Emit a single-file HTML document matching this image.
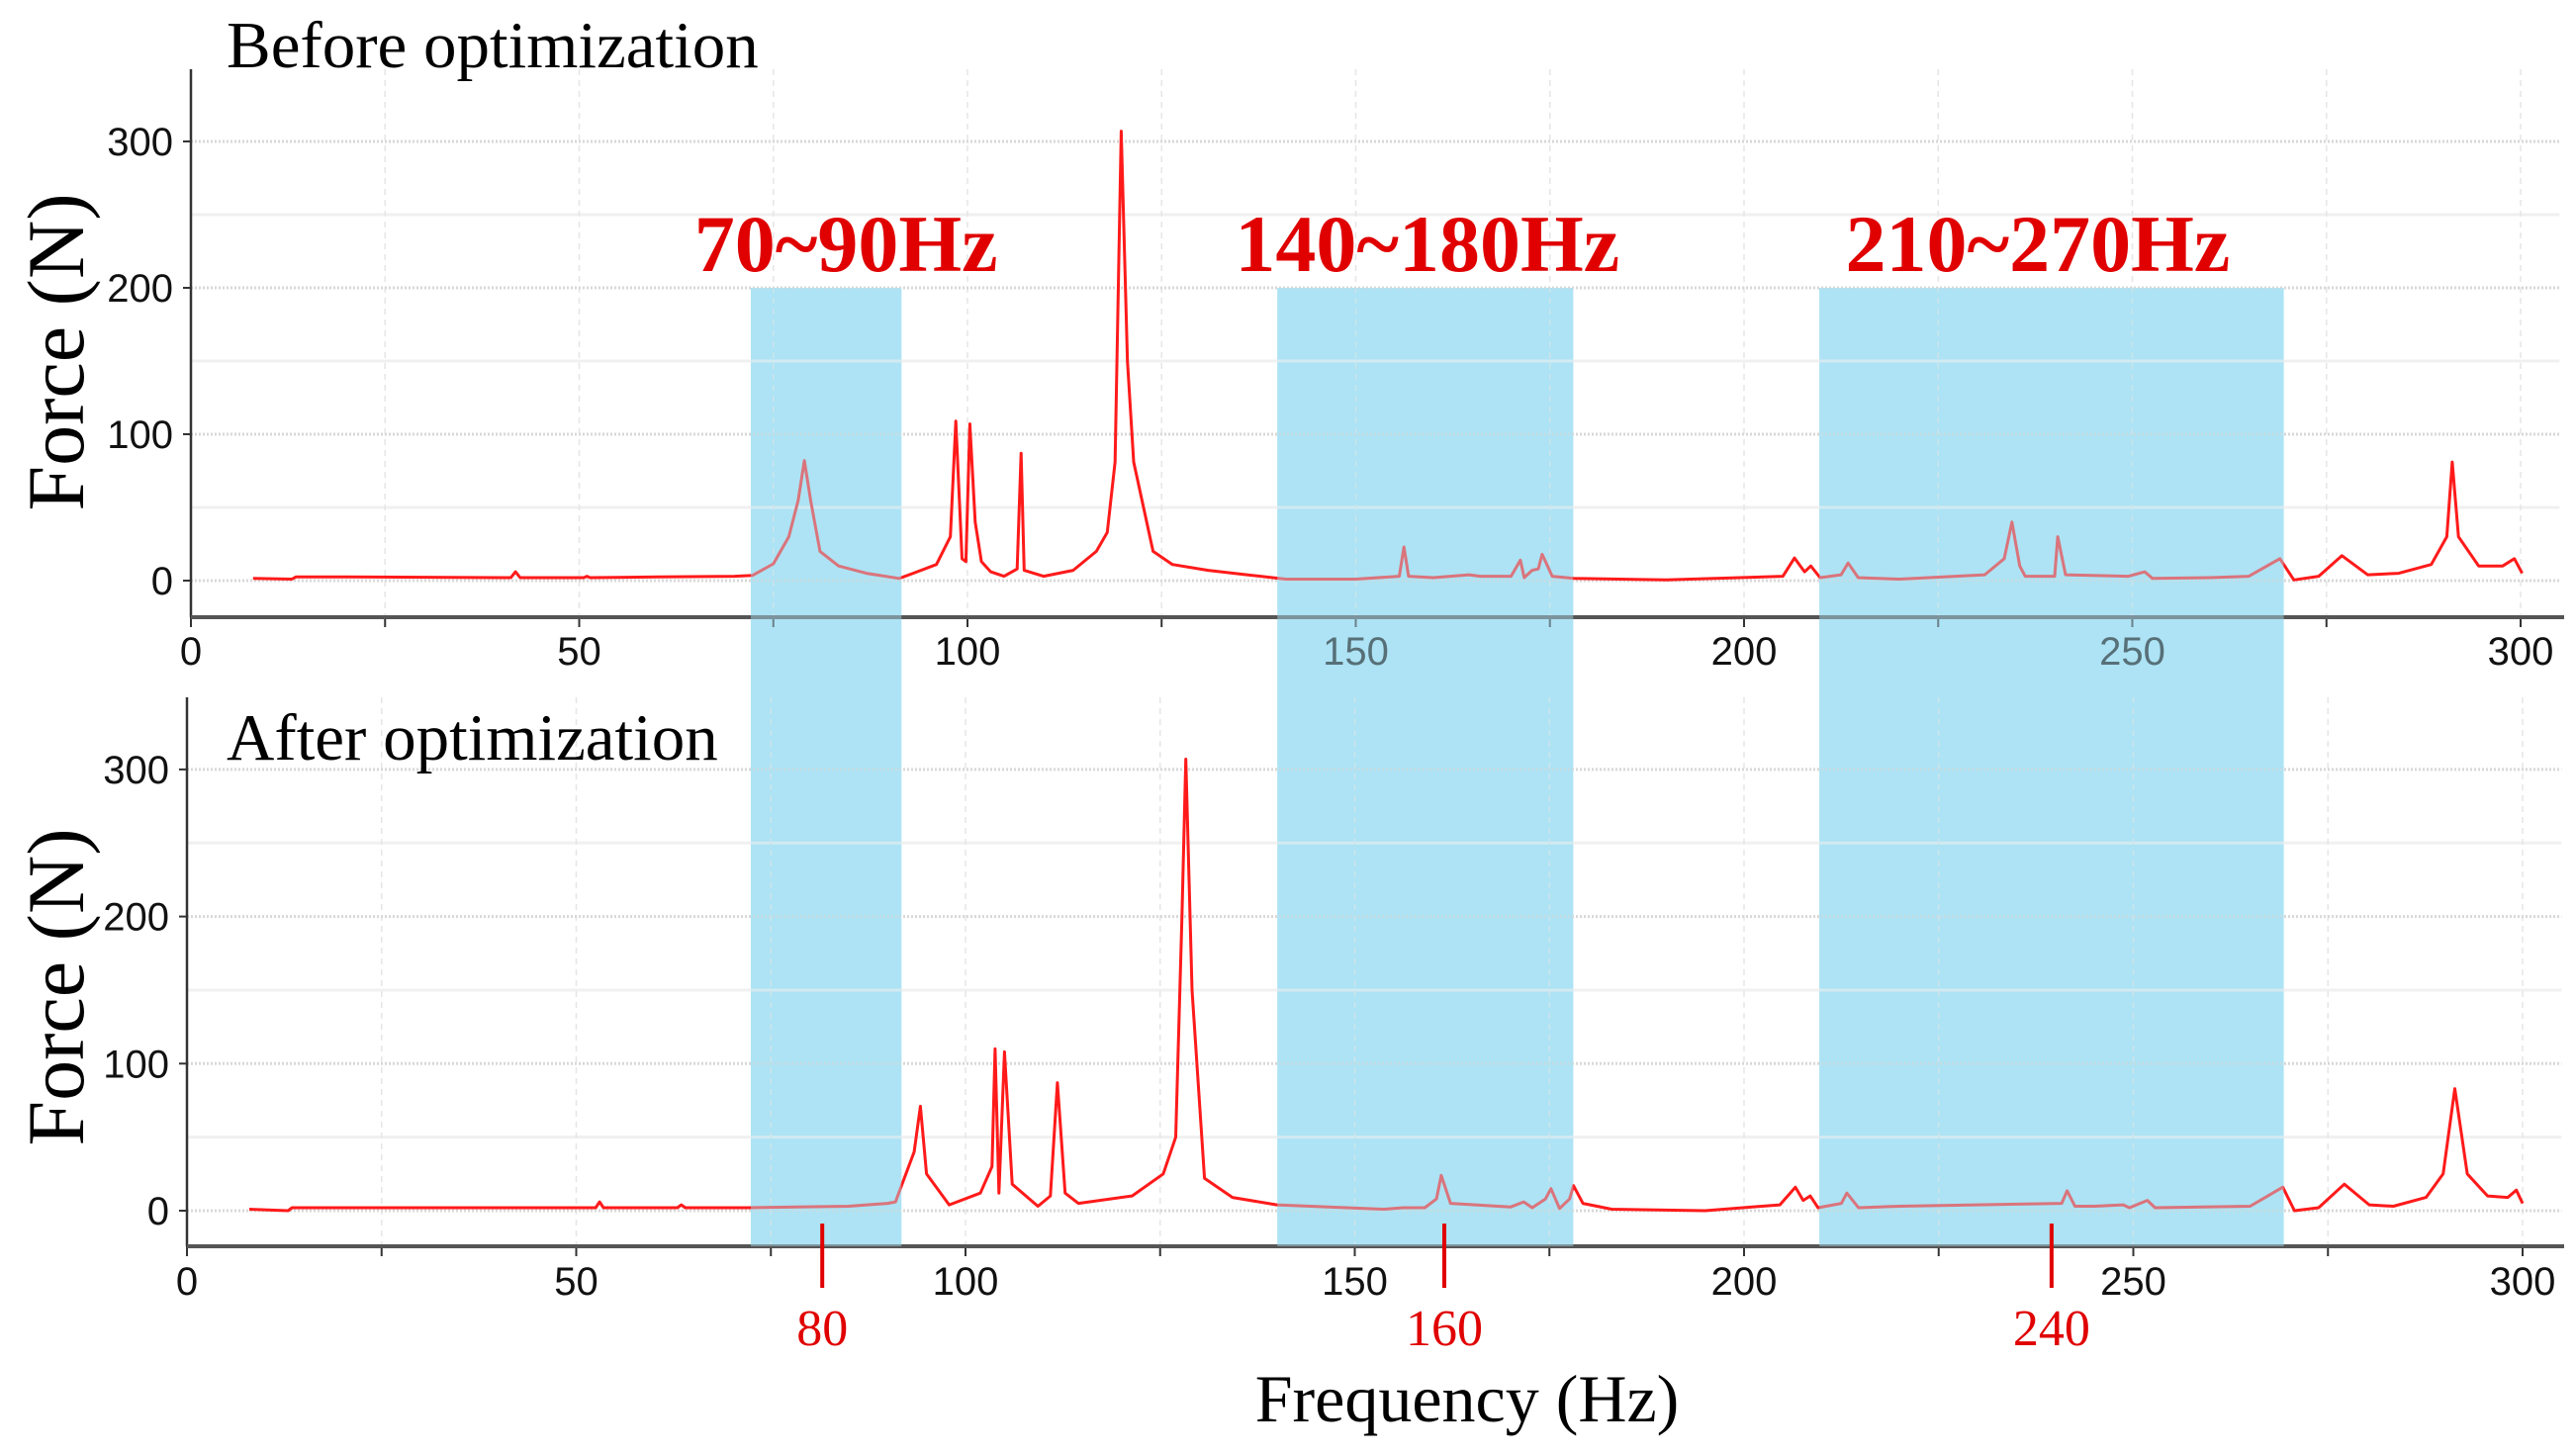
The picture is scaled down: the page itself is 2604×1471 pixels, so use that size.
<!DOCTYPE html>
<html><head><meta charset="utf-8"><style>
html,body{margin:0;padding:0;background:#fff;}
svg{display:block;}
.tick{font-family:"Liberation Sans Narrow","Liberation Sans",sans-serif;font-size:40px;fill:#111;}
.serif{font-family:"Liberation Serif",serif;}
</style></head><body>
<svg id="chart" width="2604" height="1471" viewBox="0 0 2604 1471" xmlns="http://www.w3.org/2000/svg">
<g id="under"></g>
<g id="curves"></g>
<g id="over"></g>
<g id="texts"></g>
</svg>
<script>
const beforeFreq=[8,13,13.5,20,41.2,41.8,42.4,50.6,51,51.4,60,70,72.3,75,77,78.2,79,79.8,81,83.4,87,91.2,93,96,97.8,98.5,99.3,99.8,100.3,101,101.8,103,104.7,106.4,106.9,107.3,109.8,113.6,116.6,118,119,119.8,120.6,121.4,123.9,126.4,131,136,141,150,155.6,156.2,156.8,160,164.6,166,170,171.2,171.7,172.7,173.5,174,175.3,178.1,190,205,206.5,207.8,208.6,209.8,212.5,213.4,214.7,220,231,233.5,234.5,235.5,236.2,240,240.4,241.4,249.5,251.6,252.6,260,265,269,270.8,274,277,280.3,284.3,288.5,290.5,291.2,292,294.6,297.7,299.2,300.2];
const beforeForce=[1.5,1,2.5,2.5,2,6,2,2,3,2,2.5,3,3.5,11.5,30,55,82,55,20,10,5,1.5,5,11,30,109,15,13,107,40,13,6,3,8,87,7,3,7,20,33,81,307,150,81,20,11,7,4,1,1,3,23,3,2,4,3,3,14,2,7,8,18,3,1.5,0.5,3,15.5,6,10,2,4,12,2,1,4,15,40,10,3,3,30,4,3,6,1.5,2,3,15,0.5,3,17,4,5,11,30,81,30,10,10,15,5];
const afterFreq=[8,13,13.5,20,52.5,53,53.5,63,63.5,64,72,85,90,91,93.4,94.2,95,97.9,101.9,103.4,103.8,104.3,105,106,109.3,110.9,111.8,112.8,114.5,121.4,125.4,127,127.8,128.3,129.1,130.7,134.3,140,153.8,156.2,159,160.5,161.1,162.3,170,171.7,172.8,174.5,175.2,176.3,177.6,178.1,179.3,183,195,204.6,206.6,207.6,208.5,209.5,212.5,213.2,214.7,220,240.8,241.5,242.5,245,248.7,249.5,251.8,252.8,265,269.2,270.7,273.8,277.1,280.3,283.4,287.6,289.8,291.3,292.9,295.5,298.1,299.2,300];
const afterForce=[1,0,2,2,2,6,2,2,4,2,2,3,5,6,40,71,25,4,12,30,110,12,108,18,3,10,87,12,5,10,25,50,200,307,150,22,9,4,1,2,2,8,24,5,2.5,6,2,8,15,1.5,8,17,5,1,0,4,16,7,10,2,5,12,2,3,5,13.5,3,3,4,2,7,2,3,16,0,2,18,4,3,9,25,83,25,10,9,14,5];
const yTicks=[0,100,200,300];
const xTicks=[0,50,100,150,200,250,300];
const bandStart=[72.1,139.9,209.7];
const bandEnd=[91.5,178,269.5];
const bandLabels=["70~90Hz","140~180Hz","210~270Hz"];
const markerFreq=[81.6,161.5,239.5];
const markerLabels=["80","160","240"];

const NS="http://www.w3.org/2000/svg";
const panels=[
 {name:"before",x0:193,kx:7.85,y0:587,ky:1.48,top:70,axisY:624,tickY:672,title:"Before optimization",titleY:68,labelY:356,freq:beforeFreq,force:beforeForce},
 {name:"after",x0:189,kx:7.87,y0:1224,ky:1.487,top:705,axisY:1260,tickY:1309,title:"After optimization",titleY:768,labelY:998,freq:afterFreq,force:afterForce}
];
function mk(parent,tag,attrs){const e=document.createElementNS(NS,tag);for(const k in attrs)e.setAttribute(k,attrs[k]);parent.appendChild(e);return e;}
const under=document.getElementById('under'),curves=document.getElementById('curves'),over=document.getElementById('over'),texts=document.getElementById('texts');
const BX0=193,BKX=7.85;
function bx(f){return BX0+BKX*f;}

panels.forEach(p=>{
 const X=f=>p.x0+p.kx*f, Y=v=>p.y0-p.ky*v;
 for(let v=50;v<=300;v+=100){const g=mk(under,'line',{x1:p.x0,x2:X(305),y1:Y(v),y2:Y(v),stroke:'#f0f0f0','stroke-width':3});
  }
 for(let f=25;f<=300;f+=25){const g=mk(under,'line',{x1:X(f),x2:X(f),y1:p.top,y2:p.axisY,stroke:'#e6e6e6','stroke-width':1.5,'stroke-dasharray':'6 5'});
  }
 yTicks.forEach(v=>{const g=mk(under,'line',{x1:p.x0,x2:X(305),y1:Y(v),y2:Y(v),stroke:'#d8d8d8','stroke-width':3,'stroke-dasharray':'2 2'});
  
  const t=mk(under,'text',{x:p.x0-18,y:Y(v)+14,'text-anchor':'end',class:'tick'});t.textContent=v;
  
  const tk=mk(under,'line',{x1:p.x0-8,x2:p.x0,y1:Y(v),y2:Y(v),stroke:'#333','stroke-width':2});
  });
 xTicks.forEach(f=>{const t=mk(under,'text',{x:X(f),y:p.tickY,'text-anchor':'middle',class:'tick'});t.textContent=f;
  });
 for(let f=0;f<=300;f+=25){const tk=mk(under,'line',{x1:X(f),x2:X(f),y1:p.axisY,y2:p.axisY+10,stroke:'#333','stroke-width':2});
  }
 const ya=mk(under,'line',{x1:p.x0,x2:p.x0,y1:p.top,y2:p.axisY,stroke:'#333','stroke-width':2.5});
 
 const xa=mk(under,'line',{x1:p.x0,x2:2592,y1:p.axisY,y2:p.axisY,stroke:'#555','stroke-width':4});
 
 const lab=mk(texts,'text',{x:0,y:0,transform:`translate(84,${p.labelY}) rotate(-90)`,'text-anchor':'middle',class:'serif','font-size':82,fill:'#000'});
 lab.textContent='Force (N)';
 const tt=mk(texts,'text',{x:229,y:p.titleY,class:'serif','font-size':67,fill:'#000'});tt.textContent=p.title;
 
 const d=p.freq.map((f,i)=>(i?'L':'M')+X(f).toFixed(1)+' '+Y(p.force[i]).toFixed(1)).join(' ');
 const path=mk(curves,'path',{d:d,fill:'none',stroke:'#ff1a1a','stroke-width':3,'stroke-linejoin':'round'});
 
});
const topY=panels[0].y0-panels[0].ky*200;
bandStart.forEach((s,i)=>{
 const x1=bx(s),x2=bx(bandEnd[i]);
 const r=mk(under,'rect',{x:x1,y:topY,width:x2-x1,height:1260-topY,fill:'#ade3f4'});
 under.insertBefore(r,under.firstChild);
 
 const r2=mk(over,'rect',{x:x1,y:topY,width:x2-x1,height:1260-topY,fill:'rgba(173,227,244,0.45)'});
 
 const t=mk(texts,'text',{x:(x1+x2)/2+(i===0?20:i===1?2:-14),y:274,'text-anchor':'middle',class:'serif','font-size':82,'font-weight':'bold',fill:'#e00000'});
 t.textContent=bandLabels[i];
});
markerFreq.forEach((f,i)=>{
 const x=panels[1].x0+panels[1].kx*f;
 const l=mk(texts,'line',{x1:x,x2:x,y1:1237,y2:1302,stroke:'#e00000','stroke-width':4});
 
 const t=mk(texts,'text',{x:x,y:1360,'text-anchor':'middle',class:'serif','font-size':52,fill:'#e00000'});
 t.textContent=markerLabels[i];
});
const xt=mk(texts,'text',{x:1483,y:1437,'text-anchor':'middle',class:'serif','font-size':68,fill:'#000'});
xt.textContent='Frequency (Hz)';
</script>
</body></html>
